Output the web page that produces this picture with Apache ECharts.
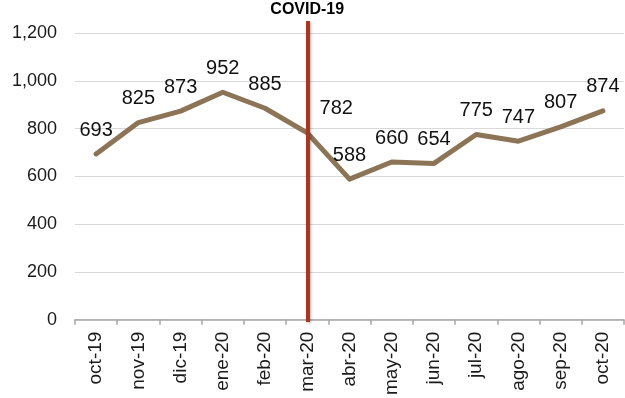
<!DOCTYPE html>
<html>
<head>
<meta charset="utf-8">
<script src="https://cdn.jsdelivr.net/npm/echarts@6/dist/echarts.min.js"></script>
<style>
  html, body { margin: 0; padding: 0; background: #fff; }
  #chart { width: 625px; height: 398px; }
</style>
</head>
<body>
<div id="chart"></div>
<script>
// Monthly values, oct-19 to oct-20
const months = ['oct-19', 'nov-19', 'dic-19', 'ene-20', 'feb-20', 'mar-20', 'abr-20',
                'may-20', 'jun-20', 'jul-20', 'ago-20', 'sep-20', 'oct-20'];
const values = [693, 825, 873, 952, 885, 782, 588, 660, 654, 775, 747, 807, 874];
const yTicks = [0, 200, 400, 600, 800, 1000, 1200];
const eventMonth = 'mar-20';
const eventLabel = 'COVID-19';

const FONT = '"Liberation Sans", Arial, sans-serif';
const eventIndex = months.indexOf(eventMonth);

const chart = echarts.init(document.getElementById('chart'), null, { renderer: 'canvas' });

const gridLeft = 75, gridRight = 1;

chart.setOption({
  animation: false,
  backgroundColor: '#ffffff',
  grid: [
    { left: gridLeft, right: gridRight, top: 33, bottom: 78 },
    // taller companion grid carrying the event marker
    { left: gridLeft, right: gridRight, top: 21, bottom: 76 }
  ],
  xAxis: [
    {
      type: 'category',
      gridIndex: 0,
      data: months,
      boundaryGap: true,
      axisLine: { lineStyle: { color: '#a6a6a6', width: 1.5 } },
      axisTick: { show: true, length: 5, alignWithLabel: false, lineStyle: { color: '#a6a6a6', width: 1.5 } },
      axisLabel: {
        rotate: 90,
        interval: 0,
        margin: 12,
        color: '#1a1a1a',
        fontFamily: FONT,
        fontSize: 19
      }
    },
    {
      type: 'category',
      gridIndex: 1,
      data: months,
      boundaryGap: true,
      show: false
    }
  ],
  yAxis: [
    {
      type: 'value',
      gridIndex: 0,
      min: yTicks[0],
      max: yTicks[yTicks.length - 1],
      interval: yTicks[1] - yTicks[0],
      axisLine: { show: false },
      axisTick: { show: false },
      splitLine: { lineStyle: { color: '#d9d9d9', width: 1.2 } },
      axisLabel: {
        margin: 18,
        color: '#1a1a1a',
        fontFamily: FONT,
        fontSize: 18,
        formatter: function (v) { return v.toLocaleString('en-US'); }
      }
    },
    {
      type: 'value',
      gridIndex: 1,
      min: 0,
      max: 1,
      show: false
    }
  ],
  series: [
    {
      type: 'line',
      xAxisIndex: 0,
      yAxisIndex: 0,
      data: values,
      showSymbol: true,
      symbol: 'circle',
      symbolSize: 2,
      lineStyle: { color: '#8c7456', width: 5, cap: 'round', join: 'round' },
      itemStyle: { color: '#8c7456' },
      label: {
        show: true,
        position: 'top',
        distance: 13,
        color: '#111111',
        fontFamily: FONT,
        fontSize: 20
      },
      // move the label at the event month clear of the marker line
      labelLayout: function (params) {
        if (params.dataIndex === eventIndex) {
          return { dx: 29, hideOverlap: false };
        }
        return { hideOverlap: false };
      },
      z: 3
    },
    {
      type: 'line',
      xAxisIndex: 1,
      yAxisIndex: 1,
      data: [],
      markLine: {
        silent: true,
        symbol: ['none', 'none'],
        animation: false,
        lineStyle: {
          color: '#a9361f',
          width: 4,
          type: 'solid',
          shadowColor: 'rgba(0,0,0,0.3)',
          shadowBlur: 3,
          shadowOffsetX: 1,
          shadowOffsetY: 1
        },
        label: {
          show: true,
          position: 'end',
          distance: 3,
          formatter: eventLabel,
          color: '#000000',
          fontFamily: FONT,
          fontWeight: 'bold',
          fontSize: 16
        },
        data: [{ xAxis: eventMonth }]
      },
      z: 4
    }
  ]
});
</script>
</body>
</html>
